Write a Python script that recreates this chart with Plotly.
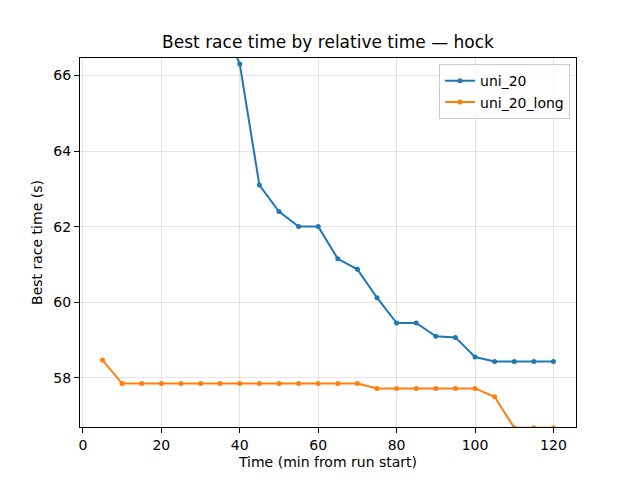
import plotly.graph_objects as go

minutes_uni20 = [35, 40, 45, 50, 55, 60, 65, 70, 75, 80, 85, 90, 95, 100, 105, 110, 115, 120]
best_uni20 = [67.5, 66.3, 63.1, 62.4, 62.0, 62.0, 61.15, 60.87, 60.12, 59.45, 59.45, 59.1, 59.07,
              58.55, 58.43, 58.43, 58.43, 58.43]

minutes_long = [5, 10, 15, 20, 25, 30, 35, 40, 45, 50, 55, 60, 65, 70, 75, 80, 85, 90, 95, 100,
                105, 110, 115, 120]
best_long = [58.47, 57.85, 57.85, 57.85, 57.85, 57.85, 57.85, 57.85, 57.85, 57.85, 57.85, 57.85,
             57.85, 57.85, 57.72, 57.72, 57.72, 57.72, 57.72, 57.72, 57.5, 56.68, 56.68, 56.68]

fig = go.Figure()
fig.add_trace(go.Scatter(x=minutes_uni20, y=best_uni20, mode='lines+markers', name='uni_20',
                         line=dict(color='#1f77b4', width=2), marker=dict(size=5, color='#1f77b4')))
fig.add_trace(go.Scatter(x=minutes_long, y=best_long, mode='lines+markers', name='uni_20_long',
                         line=dict(color='#ff7f0e', width=2), marker=dict(size=5, color='#ff7f0e')))

axe = dict(showline=True, linecolor='black', linewidth=1, mirror=True, ticks='outside',
           ticklen=5, tickcolor='black', showgrid=True, gridcolor='rgba(0,0,0,0.1)',
           zeroline=False, tickfont=dict(size=14, color='black'))

# the page body has an 8px margin, so the figure is a bit smaller than the window
fig.update_layout(
    width=632, height=472,
    margin=dict(l=72, r=64, t=50, b=53),
    paper_bgcolor='white', plot_bgcolor='white',
    font=dict(family='DejaVu Sans', color='black'),
    title=dict(text='Best race time by relative time — hock', x=72 / 632 + 0.5 * 496 / 632,
               xanchor='center', y=1 - 34 / 472, yanchor='middle', font=dict(size=17)),
    xaxis=dict(axe, range=[-0.75, 125.75], dtick=20,
               title=dict(text='Time (min from run start)', font=dict(size=14), standoff=5)),
    yaxis=dict(axe, range=[56.70, 66.46], dtick=2,
               title=dict(text='Best race time (s)', font=dict(size=14), standoff=7)),
    legend=dict(x=0.988, y=0.983, xanchor='right', yanchor='top', bgcolor='rgba(255,255,255,0.8)',
                bordercolor='#cccccc', borderwidth=1, font=dict(size=14), tracegroupgap=4),
)

fig.write_html('out.html')
